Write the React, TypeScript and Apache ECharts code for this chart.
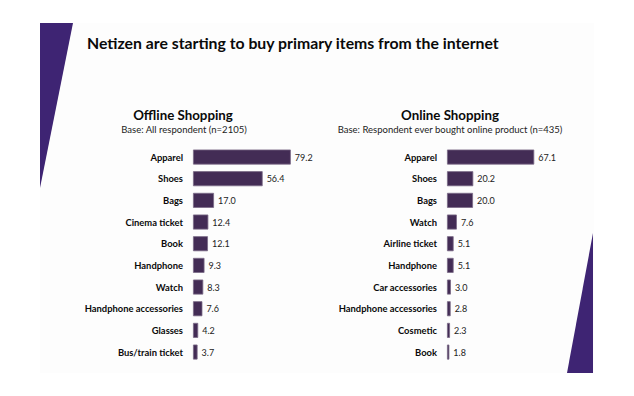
import React, { useEffect, useRef } from "react";
import * as echarts from "echarts";

const offlineCategories = ["Apparel", "Shoes", "Bags", "Cinema ticket", "Book", "Handphone", "Watch", "Handphone accessories", "Glasses", "Bus/train ticket"];
const offlineValues = [79.2, 56.4, 17.0, 12.4, 12.1, 9.3, 8.3, 7.6, 4.2, 3.7];
const onlineCategories = ["Apparel", "Shoes", "Bags", "Watch", "Airline ticket", "Handphone", "Car accessories", "Handphone accessories", "Cosmetic", "Book"];
const onlineValues = [67.1, 20.2, 20.0, 7.6, 5.1, 5.1, 3.0, 2.8, 2.3, 1.8];

const FONT = "Lato, 'Open Sans', sans-serif";
const BAR = "#432c55";

function makeAxes(gridIndex: number, cats: string[]) {
  return {
    x: {
      type: "value",
      gridIndex,
      min: 0,
      max: 100,
      show: false,
    },
    y: {
      type: "category",
      gridIndex,
      data: cats,
      inverse: true,
      axisLine: { show: false },
      axisTick: { show: false },
      splitLine: { show: false },
      axisLabel: {
        margin: 10,
        fontFamily: FONT,
        fontWeight: "bold",
        fontSize: 9.4,
        color: "#0a0a0a",
      },
    },
  };
}

function makeSeries(idx: number, values: number[]) {
  return {
    type: "bar",
    xAxisIndex: idx,
    yAxisIndex: idx,
    data: values,
    barWidth: 15,
    itemStyle: { color: BAR, borderColor: "#7a6a86", borderWidth: 0.8 },
    label: {
      show: true,
      position: "right",
      distance: 4,
      fontFamily: FONT,
      fontSize: 9,
      color: "#222",
      formatter: (p: any) => Number(p.value).toFixed(1),
    },
  };
}

export default function App() {
  const ref = useRef<HTMLDivElement>(null);
  useEffect(() => {
    if (!ref.current) return;
    const chart = echarts.init(ref.current, null, { renderer: "svg" });
    const a = makeAxes(0, offlineCategories);
    const b = makeAxes(1, onlineCategories);
    const rowTop = 146.2;
    const rowH = 216.7;
    chart.setOption({
      animation: false,
      backgroundColor: "#ffffff",
      grid: [
        { left: 193, top: rowTop, width: 123.5, height: rowH, containLabel: false },
        { left: 447, top: rowTop, width: 130, height: rowH, containLabel: false },
      ],
      xAxis: [a.x, b.x],
      yAxis: [a.y, b.y],
      series: [makeSeries(0, offlineValues), makeSeries(1, onlineValues)],
      graphic: [
        { type: "rect", shape: { x: 40, y: 23, width: 554, height: 350 }, style: { fill: "#fdfdfd" }, z: -10 },
        { type: "polygon", shape: { points: [[40, 23], [73, 23], [40, 188]] }, style: { fill: "#3e2473" }, z: -5 },
        { type: "polygon", shape: { points: [[593, 233], [593, 373], [567, 373]] }, style: { fill: "#3e2473" }, z: -5 },
        {
          type: "text",
          x: 87,
          y: 42,
          style: { text: "Netizen are starting to buy primary items from the internet", fontFamily: FONT, fontWeight: "bold", fontSize: 15.8, fill: "#0a0a0a", textVerticalAlign: "middle" },
        },
        {
          type: "text",
          x: 183,
          y: 115,
          style: { text: "Offline Shopping", fontFamily: FONT, fontWeight: "bold", fontSize: 13.3, fill: "#0a0a0a", textAlign: "center", textVerticalAlign: "middle" },
        },
        {
          type: "text",
          x: 184,
          y: 129,
          style: { text: "Base: All respondent (n=2105)", fontFamily: FONT, fontSize: 9.5, fill: "#222", textAlign: "center", textVerticalAlign: "middle" },
        },
        {
          type: "text",
          x: 450,
          y: 115,
          style: { text: "Online Shopping", fontFamily: FONT, fontWeight: "bold", fontSize: 13.3, fill: "#0a0a0a", textAlign: "center", textVerticalAlign: "middle" },
        },
        {
          type: "text",
          x: 450,
          y: 129,
          style: { text: "Base: Respondent ever bought online product (n=435)", fontFamily: FONT, fontSize: 9.5, fill: "#222", textAlign: "center", textVerticalAlign: "middle" },
        },
      ],
    });
    return () => chart.dispose();
  }, []);
  return <div ref={ref} style={{ position: "absolute", left: 0, top: 0, width: 634, height: 396 }} />;
}
